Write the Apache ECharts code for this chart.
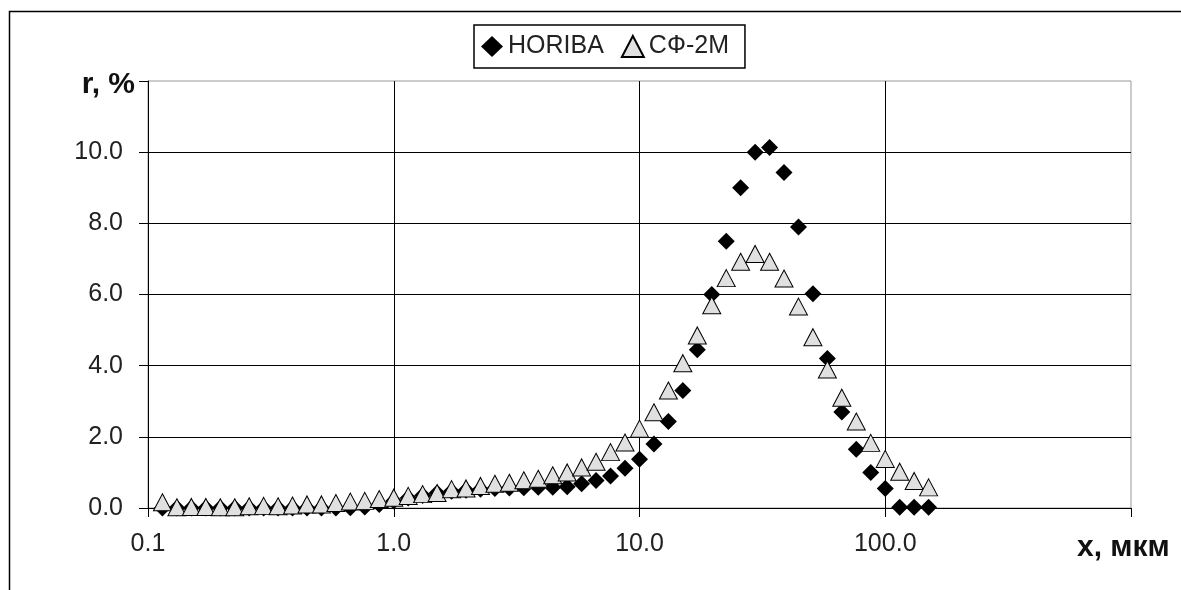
<!DOCTYPE html>
<html>
<head>
<meta charset="utf-8">
<script src="https://cdn.jsdelivr.net/npm/echarts@6/dist/echarts.min.js"></script>
<style>
  html, body { margin: 0; padding: 0; background: #fff; }
  #chart { width: 1181px; height: 590px; }
</style>
</head>
<body>
<div id="chart"></div>
<script>
// размер частиц x, мкм (одни и те же классы для обоих методов)
const sizes = [
  0.1145, 0.1311, 0.1501, 0.1719, 0.1968, 0.2254, 0.2580, 0.2954, 0.3383, 0.3873,
  0.4435, 0.5078, 0.5814, 0.6657, 0.7623, 0.8728,
  1.000, 1.145, 1.311, 1.501, 1.719, 1.968, 2.254, 2.580, 2.954, 3.383,
  3.873, 4.435, 5.078, 5.814, 6.657, 7.623, 8.728,
  10.00, 11.45, 13.11, 15.01, 17.19, 19.68, 22.54, 25.80, 29.54, 33.83,
  38.73, 44.35, 50.78, 58.14, 66.57, 76.23, 87.28,
  100.0, 114.5, 131.1, 150.1
]
// r, % — HORIBA
const horiba = [
  0, 0, 0, 0, 0, 0, 0, 0, 0, 0, 0, 0, 0, 0.01,
  0.03, 0.1, 0.2, 0.28, 0.35, 0.42, 0.47, 0.5, 0.53, 0.55,
  0.56, 0.57, 0.58, 0.58, 0.6, 0.68, 0.77, 0.9, 1.12, 1.37,
  1.8, 2.43, 3.3, 4.45, 6.0, 7.5, 9.0, 10.0, 10.13, 9.43,
  7.9, 6.02, 4.2, 2.7, 1.65, 1.0, 0.55, 0.02, 0.02, 0.02
]
// r, % — СФ-2М
const sf2m = [
  0.16, 0.02, 0.03, 0.03, 0.02, 0.02, 0.05, 0.06, 0.05, 0.07,
  0.1, 0.1, 0.14, 0.18, 0.2, 0.25, 0.29, 0.34, 0.39, 0.42,
  0.53, 0.55, 0.62, 0.68, 0.71, 0.78, 0.82, 0.92, 1.0, 1.14,
  1.3, 1.57, 1.84, 2.23, 2.69, 3.3, 4.07, 4.85, 5.7, 6.46,
  6.92, 7.14, 6.92, 6.45, 5.66, 4.8, 3.89, 3.1, 2.43, 1.83,
  1.38, 1.02, 0.76, 0.58
]
const seriesNames = ['HORIBA', 'СФ-2М']

const font = 'Liberation Sans, Arial, sans-serif'
const textColor = '#222'

const myChart = echarts.init(document.getElementById('chart'))

myChart.setOption({
  animation: false,
  backgroundColor: '#fff',
  grid: {
    left: 148, right: 50, top: 81, bottom: 82,
    show: true, borderColor: '#999', borderWidth: 1
  },
  legend: {
    left: 474, top: 25,
    // значки в легенде рисуются меньше коробки, поэтому коробка крупнее
    itemWidth: 22, itemHeight: 21, itemGap: 17,
    padding: [9, 16, 9, 7],
    borderColor: '#000', borderWidth: 1.5,
    backgroundColor: '#fff',
    textStyle: { fontSize: 25, fontFamily: font, color: textColor },
    data: [
      { name: seriesNames[0], icon: 'diamond' },
      { name: seriesNames[1], icon: 'triangle' }
    ]
  },
  xAxis: {
    type: 'log',
    logBase: 10,
    min: 0.1,
    max: 1000,
    axisLine: { show: true, lineStyle: { color: '#000', width: 1 } },
    axisTick: { show: true, length: 9, lineStyle: { color: '#000' } },
    minorTick: { show: false },
    axisLabel: {
      margin: 24,
      fontSize: 25, fontFamily: font, color: textColor,
      // 1000 не подписываем — там стоит название оси
      formatter: v => (v >= 999 ? '' : Number(v).toFixed(1))
    },
    splitLine: { show: true, showMaxLine: false, lineStyle: { color: '#000', width: 1 } }
  },
  yAxis: {
    type: 'value',
    min: 0,
    max: 12,
    interval: 2,
    axisLine: { show: true, lineStyle: { color: '#000', width: 1 } },
    axisTick: { show: true, length: 9, lineStyle: { color: '#000' } },
    axisLabel: {
      margin: 25,
      fontSize: 25, fontFamily: font, color: textColor,
      formatter: v => (v >= 12 ? '' : v.toFixed(1))
    },
    splitLine: { show: true, showMaxLine: false, lineStyle: { color: '#000', width: 1 } }
  },
  graphic: [
    {
      type: 'rect',
      shape: { x: 9.5, y: 11.5, width: 1200, height: 600 },
      style: { fill: 'none', stroke: '#000', lineWidth: 1.5 },
      silent: true
    },
    {
      type: 'text', x: 135, y: 85,
      style: {
        text: 'r, %', fill: '#111', font: 'bold 30px ' + font,
        textAlign: 'right', textVerticalAlign: 'middle'
      }
    },
    {
      type: 'text', x: 1077, y: 548,
      style: {
        text: 'x, мкм', fill: '#111', font: 'bold 30px ' + font,
        textAlign: 'left', textVerticalAlign: 'middle'
      }
    }
  ],
  series: [
    {
      name: seriesNames[0],
      type: 'scatter',
      symbol: 'diamond',
      symbolSize: 17,
      itemStyle: { color: '#000', opacity: 1 },
      data: sizes.map((x, i) => [x, horiba[i]])
    },
    {
      name: seriesNames[1],
      type: 'scatter',
      symbol: 'triangle',
      symbolSize: [18, 17],
      itemStyle: { color: '#e0e0e0', borderColor: '#000', borderWidth: 1, opacity: 1 },
      data: sizes.map((x, i) => [x, sf2m[i]])
    }
  ]
})
</script>
</body>
</html>
